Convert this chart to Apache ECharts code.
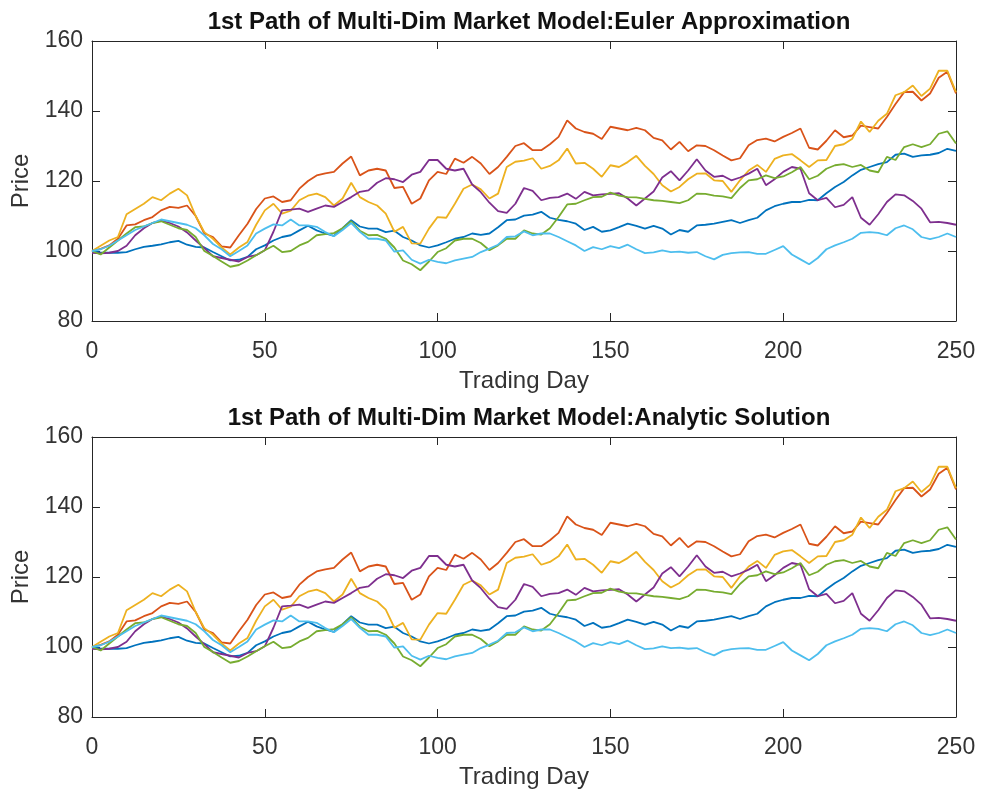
<!DOCTYPE html>
<html>
<head>
<meta charset="utf-8">
<script src="https://cdn.jsdelivr.net/npm/echarts@6/dist/echarts.min.js"></script>
<style>
html,body{margin:0;padding:0;background:#fff;}
#chart{width:984px;height:795px;}
</style>
</head>
<body>
<div id="chart"></div>
<script>
const days = [0,2.5,5,7.5,10,12.5,15,17.5,20,22.5,25,27.5,30,32.5,35,37.5,40,42.5,45,47.5,50,52.5,55,57.5,60,62.5,65,67.5,70,72.5,75,77.5,80,82.5,85,87.5,90,92.5,95,97.5,100,102.5,105,107.5,110,112.5,115,117.5,120,122.5,125,127.5,130,132.5,135,137.5,140,142.5,145,147.5,150,152.5,155,157.5,160,162.5,165,167.5,170,172.5,175,177.5,180,182.5,185,187.5,190,192.5,195,197.5,200,202.5,205,207.5,210,212.5,215,217.5,220,222.5,225,227.5,230,232.5,235,237.5,240,242.5,245,247.5,250];

const asset1 = [100,99.5,99.5,99.5,99.7,100.5,101.2,101.5,101.9,102.5,
102.9,101.8,101.2,101,99.7,98.5,97.3,97.5,98.3,100.5,
101.6,103,104,104.5,105.9,107.2,105.9,105,104.3,106.5,
108.8,107,106.4,106.4,105.4,105.8,104,103,101.6,101,
101.6,102.5,103.5,104,105,104.6,105,106.8,108.8,109,
110.1,110.4,111.2,109.5,108.9,108.5,107.8,106,106.9,105.5,
105.9,106.8,107.8,107.2,106.4,107.2,106.4,104.7,106,105.5,
107.3,107.5,107.8,108.3,108.8,108,108.8,109.5,111.6,112.8,
113.5,114,114,114.6,114.5,116.5,118.3,119.7,121.6,123.2,
124,124.8,125.4,127.5,127.8,126.9,127.3,127.5,128,129.2,
128.6];

const asset2 = [100,100.6,101.6,103.5,107.3,107.6,108.8,109.7,111.6,112.6,
112.3,113,110,105,104,101.3,101,104.5,107.8,112,
115,115.6,114,114.5,117.8,120,121.6,122.2,122.6,125,
127,121.6,123,123.5,123,118,118.3,113.5,115,120.2,
122.6,122,126.4,125.2,126.9,125,122,124,126.9,130,
130.8,128.8,128.8,130.5,132.6,137.3,135,134,133.5,132,
135.5,135,134.5,135.2,134.5,132.3,131.6,129,131.2,128.5,
130.2,130,128.8,127.3,125.9,126.5,130.2,131.7,132.1,131.3,
132.6,133.7,135,129.5,129,131.5,134.5,132.5,133,135.8,
135.4,135,138.3,142,145.4,145.5,143,145,149.5,151.2,
145];

const asset3 = [100,101.5,103,104,110.5,112,113.5,115.4,114.5,116.4,
117.8,115.9,110,105.4,103.5,101,99,101,102.6,107.5,
111.6,113.5,110.7,111.5,114.5,115.8,116.4,115.4,113,115,
119.5,115.4,114,113,110.7,105.5,106.9,102.2,102.1,106.4,
109.7,109.5,113.5,117.8,119,117.6,115,116.4,124,125.5,
125.8,126.5,123.5,124.3,125.9,129.3,125,125.2,123.5,121.2,
124.5,124,125.4,127.2,124.3,122,118.8,117,118.3,120.5,
122.1,122.2,120.2,120,116.9,120.2,123,124.6,122.6,126.3,
127.3,127.7,125.9,124,125.9,126,130,130.5,132.1,137,
134,137.2,139.2,144.5,145.4,147.3,144.3,146.4,151.5,151.5,
145.4];

const asset4 = [99.5,99.3,99.5,100,101.5,104.5,106.5,108,108.7,108,
107,105.3,103,100.8,98.5,98,97.5,97,98.3,98.8,
100.2,105.5,111.6,111.8,112.1,111.2,112.1,113,112.6,114,
115.4,116.9,117.3,119.5,120.8,120.5,119.7,121.8,122.6,126,
126,123.5,123,123.5,119,116.8,113.8,111.4,110.9,113.5,
118,117.2,114.5,115.2,115.4,116.4,114.9,116.9,115.9,116.2,
116.3,116.5,115,113,115,117,121,122.8,120.2,123,
126.2,123,121.2,121.5,120.2,121,122.1,123.5,118.8,120.5,
122.6,124,123.5,116.5,114.5,115.2,112.5,113.2,115.4,109.5,
107.5,110.5,114,116.2,115.9,114.3,112.1,108.2,108.3,108,
107.5];

const asset5 = [100,99,101,103,105,106.8,107,108,108.5,107.5,
106.5,106,104,100,98.6,97,95.5,96,97.3,98.8,
100.2,101.5,99.7,100,101.6,102.6,104.5,104.8,105.1,106.5,
108.5,105.8,104.5,104.6,103.5,101,97.3,96.2,94.5,97,
99.7,100.8,103,103.5,103.5,102.3,100.2,101.6,103.5,103.5,
105.9,105,104.7,106.5,109.7,113.3,113.5,114.5,115.4,115.5,
116.7,115.8,115.4,115.3,114.9,114.5,114.3,114,113.7,114.5,
116.4,116.3,115.8,115.6,115.1,118,120.2,120.5,121.6,120.8,
121.3,122.5,124,120.5,121.5,123.5,124.5,124.8,124,124.6,
123,122.5,126.9,126,129.7,130.5,129.7,130.5,133.5,134.2,
130.7];

const asset6 = [100,100.5,101.5,103,104.5,106,107,108,109,108.5,
108,107.5,106.5,104.5,102,100.5,98.5,100,101.6,105,
106.4,107.6,107.3,109,107.3,107.3,106.9,105.4,104.2,106,
108,105.5,103.5,103.5,103,99.8,100.2,97.5,96.4,97.5,
96.9,96.5,97.3,97.8,98.3,99.7,100.7,101.8,104,104.2,
105.6,104.5,105,105,104,102.8,101.6,100,101.1,100.5,
101.4,100.8,101.8,100.5,99.4,99.6,100.2,99.7,99.8,99.5,
99.7,98.5,97.6,98.9,99.4,99.6,99.7,99.2,99.2,100.3,
101.4,99,97.6,96.2,98,100.5,101.6,102.5,103.5,105.2,
105.4,105.2,104.5,106.5,107.3,106.2,104,103.4,104,105,
104];

const eulerPaths = [asset1, asset2, asset3, asset4, asset5, asset6];
const analyticPaths = [asset1, asset2, asset3, asset4, asset5, asset6];

const titles = ['1st Path of Multi-Dim Market Model:Euler Approximation',
                '1st Path of Multi-Dim Market Model:Analytic Solution'];
const xTicks = [0, 50, 100, 150, 200, 250];
const yTicks = [80, 100, 120, 140, 160];
const colors = ['#0072BD','#D95319','#EDB120','#7E2F8E','#77AC30','#4DBEEE'];

const FONT = '"Liberation Sans", Arial, Helvetica, sans-serif';
const AX = '#262626';
const TXT = '#333333';

const gridTops = [41, 437];
const grids = gridTops.map(t => ({left: 92, top: t, width: 864, height: 280}));

const xAxes = [], yAxes = [];
gridTops.forEach((t, g) => {
  xAxes.push({
    type: 'value', gridIndex: g, min: xTicks[0], max: xTicks[xTicks.length-1], interval: 50,
    position: 'bottom',
    axisLine: {show: true, onZero: false, lineStyle: {color: AX, width: 1}},
    axisTick: {show: true, inside: true, length: 8, lineStyle: {color: AX}},
    splitLine: {show: false},
    axisLabel: {color: TXT, fontSize: 23, fontFamily: FONT, margin: 19},
    name: 'Trading Day', nameLocation: 'middle', nameGap: 48,
    nameTextStyle: {color: TXT, fontSize: 24, fontFamily: FONT}
  });
  xAxes.push({
    type: 'value', gridIndex: g, min: xTicks[0], max: xTicks[xTicks.length-1], interval: 50,
    position: 'top',
    axisLine: {show: true, onZero: false, lineStyle: {color: AX, width: 1}},
    axisTick: {show: true, inside: true, length: 8, lineStyle: {color: AX}},
    splitLine: {show: false},
    axisLabel: {show: false}
  });
  yAxes.push({
    type: 'value', gridIndex: g, min: yTicks[0], max: yTicks[yTicks.length-1], interval: 20,
    position: 'left',
    axisLine: {show: true, onZero: false, lineStyle: {color: AX, width: 1}},
    axisTick: {show: true, inside: true, length: 8, lineStyle: {color: AX}},
    splitLine: {show: false},
    axisLabel: {color: TXT, fontSize: 23, fontFamily: FONT, margin: 9},
    name: 'Price', nameLocation: 'middle', nameGap: 54, nameRotate: 90,
    nameTextStyle: {color: TXT, fontSize: 24, fontFamily: FONT}
  });
  yAxes.push({
    type: 'value', gridIndex: g, min: yTicks[0], max: yTicks[yTicks.length-1], interval: 20,
    position: 'right',
    axisLine: {show: true, onZero: false, lineStyle: {color: AX, width: 1}},
    axisTick: {show: true, inside: true, length: 8, lineStyle: {color: AX}},
    splitLine: {show: false},
    axisLabel: {show: false}
  });
});

const series = [];
[eulerPaths, analyticPaths].forEach((paths, g) => {
  paths.forEach((vals, k) => {
    series.push({
      type: 'line', xAxisIndex: g*2, yAxisIndex: g*2,
      data: days.map((d, i) => [d, vals[i]]),
      showSymbol: false, symbol: 'none',
      lineStyle: {color: colors[k], width: 1.8},
      itemStyle: {color: colors[k]},
      z: 2 + k
    });
  });
});

const chart = echarts.init(document.getElementById('chart'), null, {renderer: 'canvas'});
chart.setOption({
  animation: false,
  backgroundColor: '#ffffff',
  title: titles.map((t, g) => ({
    text: t, left: 524, top: gridTops[g] - 36, textAlign: 'center',
    textStyle: {fontSize: 24, fontWeight: 'bold', color: '#111', fontFamily: FONT}
  })),
  grid: grids,
  xAxis: xAxes,
  yAxis: yAxes,
  series: series
});
</script>
</body>
</html>
